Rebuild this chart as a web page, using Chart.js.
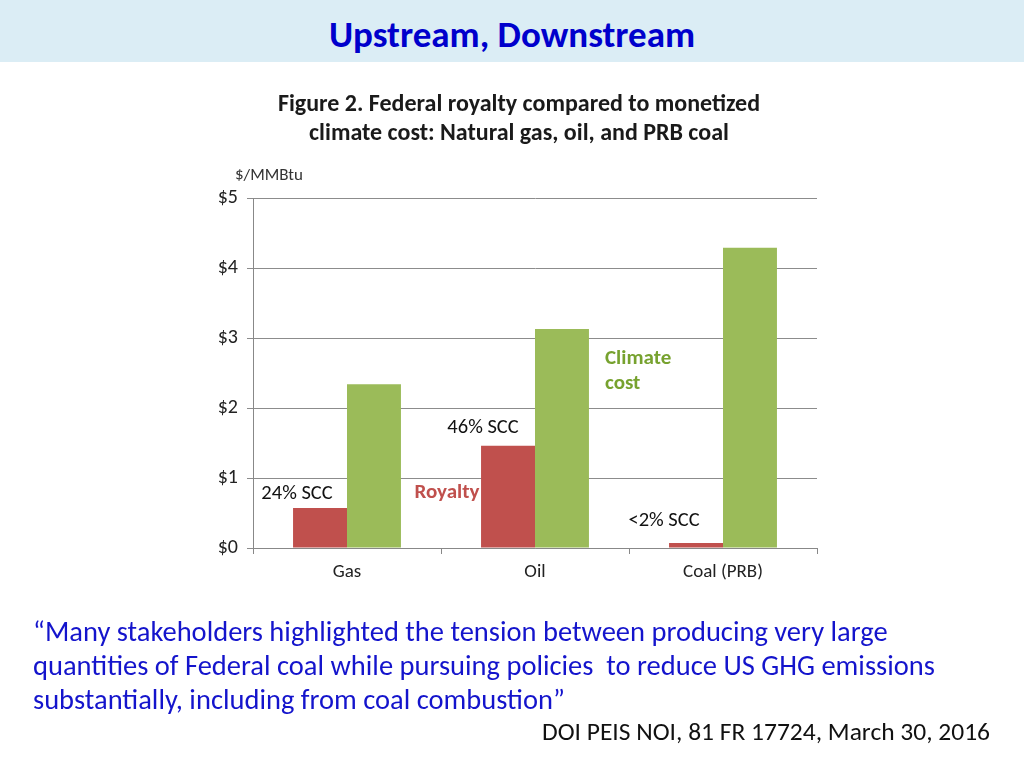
<!DOCTYPE html>
<html>
<head>
<meta charset="utf-8">
<script src="https://cdn.jsdelivr.net/npm/chart.js@4/dist/chart.umd.min.js"></script>
<style>
  body { margin: 0; width: 1024px; height: 768px; position: relative; overflow: hidden; background: #fff;
         font-family: Carlito, Lato, sans-serif; }
  #header { position: absolute; left: 0; top: 0; width: 1024px; height: 62px; background: #dbedf5; }
  #header h1 { margin: 0; text-align: center; font-size: 37px; font-weight: bold; color: #0000cc; line-height: 70px; }
  #figtitle { position: absolute; left: 169px; top: 88px; width: 700px; text-align: center;
              font-size: 24px; font-weight: bold; color: #1a1a1a; line-height: 29px; }
  #unit { position: absolute; left: 235px; top: 164px; font-size: 17px; color: #333; line-height: 22px; }
  #quote { position: absolute; left: 33px; top: 615px; font-size: 28.5px; color: #1414cc; line-height: 34px; white-space: nowrap; }
  #cite { position: absolute; right: 34px; top: 716px; font-size: 25.5px; color: #111; line-height: 32px; }
  #wrap { position: absolute; left: 0; top: 0; width: 1024px; height: 768px; }
</style>
</head>
<body>
<div id="wrap"><canvas id="chart"></canvas></div>
<div id="header"><h1>Upstream, Downstream</h1></div>
<div id="figtitle">Figure 2. Federal royalty compared to monetized<br>climate cost: Natural gas, oil, and PRB coal</div>
<div id="unit">$/MMBtu</div>
<div id="quote">“Many stakeholders highlighted the tension between producing very large<br>quantities of Federal coal while pursuing policies&nbsp; to reduce US GHG emissions<br>substantially, including from coal combustion”</div>
<div id="cite">DOI PEIS NOI, 81 FR 17724, March 30, 2016</div>
<script>
// chart data
const categories = ['Gas', 'Oil', 'Coal (PRB)'];
const royalty = [0.57, 1.46, 0.07];
const climateCost = [2.34, 3.13, 4.29];
const sccLabels = ['24% SCC', '46% SCC', '<2% SCC'];

const RED = '#c0504d';
const GREEN = '#9bbb59';
const FONT = 'Carlito, Lato, sans-serif';

// text labels next to the bars (offsets picked by eye)
const labelPlugin = {
    id: 'barNotes',
    afterDatasetsDraw(chart) {
        const { ctx, chartArea } = chart;
        const bars = chart.getDatasetMeta(0).data;
        const offs = [[-23, -14], [-25, -18], [-32, -22]];

        ctx.save();
        ctx.textAlign = 'center';
        ctx.textBaseline = 'middle';
        ctx.font = `20.5px ${FONT}`;
        ctx.fillStyle = '#111';
        bars.forEach((bar, i) => {
            ctx.fillText(sccLabels[i], bar.x + offs[i][0], bar.y + offs[i][1]);
        });

        // series names
        ctx.font = `bold 21px ${FONT}`;
        ctx.fillStyle = RED;
        ctx.fillText('Royalty', chartArea.left + 194, chartArea.top + 295);
        ctx.textAlign = 'left';
        ctx.fillStyle = '#77a22f';
        ctx.fillText('Climate', chartArea.left + 352, chartArea.top + 161);
        ctx.fillText('cost', chartArea.left + 352, chartArea.top + 186);
        ctx.restore();
    }
};

new Chart(document.getElementById('chart'), {
    type: 'bar',
    data: {
        labels: categories,
        datasets: [
            { label: 'Royalty', data: royalty, backgroundColor: RED },
            { label: 'Climate cost', data: climateCost, backgroundColor: GREEN }
        ]
    },
    options: {
        responsive: true,
        maintainAspectRatio: false,
        animation: false,
        categoryPercentage: 0.574,
        barPercentage: 1,
        layout: { padding: { left: 200, right: 207, top: 198, bottom: 0 } },
        plugins: {
            legend: { display: false },
            tooltip: { enabled: false }
        },
        scales: {
            x: {
                afterFit(scale) { scale.height = 220; },
                grid: { drawOnChartArea: false, offset: true, tickLength: 6, color: '#888' },
                border: { color: '#888' },
                ticks: { color: '#222', padding: 7, font: { family: FONT, size: 19 } }
            },
            y: {
                min: 0,
                max: 5,
                afterFit(scale) { scale.width = 53; },
                grid: { color: '#8c8c8c', tickLength: 6 },
                border: { color: '#888' },
                ticks: {
                    stepSize: 1,
                    color: '#222',
                    padding: 9,
                    font: { family: FONT, size: 20 },
                    callback: v => '$' + v
                }
            }
        }
    },
    plugins: [labelPlugin]
});
</script>
</body>
</html>
